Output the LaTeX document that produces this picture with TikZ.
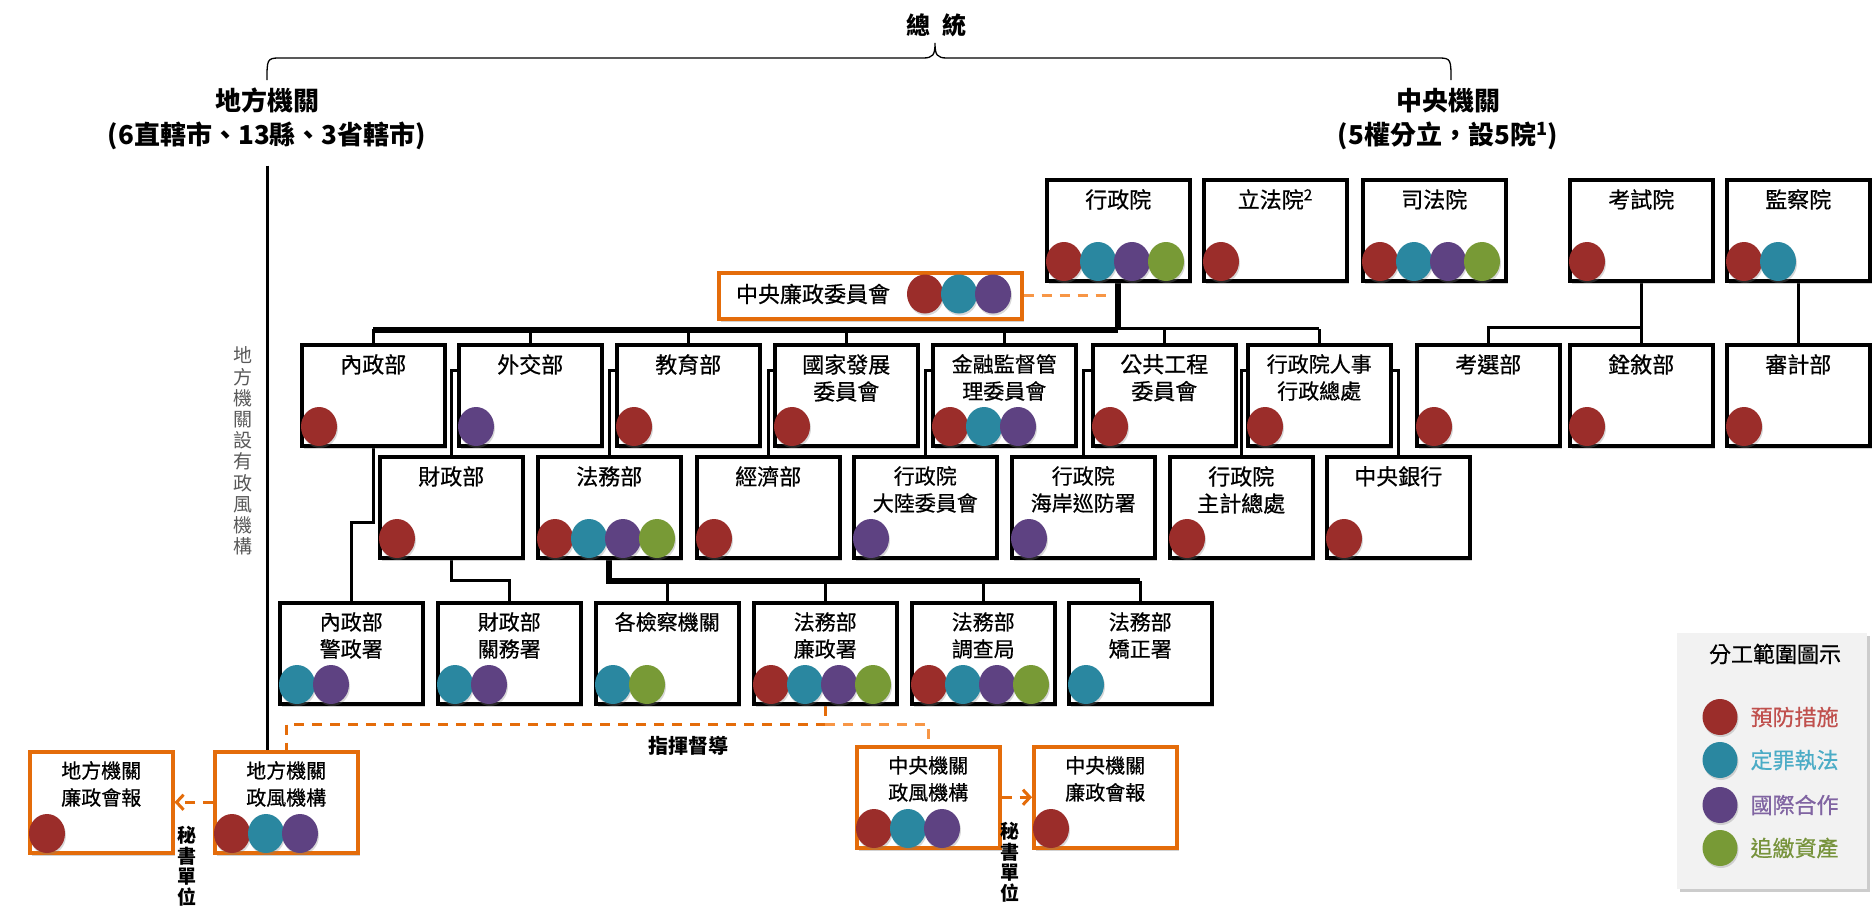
\documentclass[tikz,border=0pt]{standalone}
\usepackage{fontspec}
\setmainfont{Noto Sans CJK TC}
\newfontfamily\medf{Noto Sans CJK TC}[FakeBold=0.6]
\usetikzlibrary{shapes.geometric,shadows,arrows.meta,calc}
\definecolor{cr}{HTML}{9B2D2A}
\definecolor{ct}{HTML}{2A87A0}
\definecolor{cp}{HTML}{5E4282}
\definecolor{cg}{HTML}{789A36}
\definecolor{lr}{HTML}{C0504D}
\definecolor{lt}{HTML}{4BACC6}
\definecolor{lp}{HTML}{8064A2}
\definecolor{lg}{HTML}{77933C}
\definecolor{org}{HTML}{E46C0A}
\definecolor{lorg}{HTML}{F79646}
\definecolor{lgray}{HTML}{F2F2F2}
\definecolor{dgray}{HTML}{595959}
\pgfdeclarelayer{back}
\pgfdeclarelayer{bg}
\pgfsetlayers{back,bg,main}
\newcommand\fz[1]{\medf\fontsize{#1}{27}\selectfont}
\newcommand\ob[7]{%
  \node[#2] (#1) at (#3,#4) {};
  \node[lbl,font=\fz{#5}] (#1-t) at ([yshift=-11pt]#1.north) {#6};
  \foreach \cl [count=\ci from 0] in {#7}{%
    \node[dot,fill=\cl] at ([xshift={19+34*\ci}, yshift=21pt]#1.south west) {};}%
}
\begin{document}
\begin{tikzpicture}[x=1pt,y=-1pt,
  conn/.style={line width=3pt},
  busl/.style={line width=6pt},
  odash/.style={draw=org,line width=3pt,dash pattern=on 10pt off 8pt},
  bx/.style={draw,line width=3.5pt,fill=white,minimum width=143pt,minimum height=101pt,anchor=north west,inner sep=0pt,drop shadow={shadow xshift=2pt,shadow yshift=-3pt,opacity=.35}},
  obx/.style={bx,draw=org},
  lbl/.style={inner sep=0pt,align=center,anchor=north},
  dot/.style={ellipse,minimum width=36pt,minimum height=39pt,inner sep=0pt,drop shadow={shadow xshift=1pt,shadow yshift=-2pt,opacity=.3}},
]
\useasboundingbox (0,0) rectangle (1872,910);
\begin{pgfonlayer}{back}
\fill[white] (0,0) rectangle (1872,910);
\end{pgfonlayer}

% headers
\node[font=\bfseries\fontsize{24}{28}\selectfont] (ttl) at (936,25) {總\hspace{12pt}統};
\node[font=\bfseries\fontsize{26}{34}\selectfont,align=center] (df) at (267,119) {地方機關\\(6直轄市、13縣、3省轄市)};
\node[font=\bfseries\fontsize{26}{34}\selectfont,align=center] (zy) at (1448,119) {中央機關\\(5權分立，設5院\textsuperscript{1})};
\draw[line width=1.3pt] (267,80) .. controls (267,60) and (267,58) .. (279,58) -- (923,58) .. controls (933,58) and (935,55) .. (935,43) .. controls (935,55) and (937,58) .. (947,58) -- (1439,58) .. controls (1451,58) and (1451,60) .. (1451,80);

% top row
\ob{xz}{bx}{1045}{178}{22}{行政院}{cr,ct,cp,cg}
\ob{lf}{bx}{1202}{178}{22}{立法院\textsuperscript{2}}{cr}
\ob{sf}{bx}{1361}{178}{22}{司法院}{cr,ct,cp,cg}
\ob{ks}{bx}{1568}{178}{22}{考試院}{cr}
\ob{jc}{bx}{1725}{178}{22}{監察院}{cr,ct}

% central clean government committee
\node[draw=org,line width=3.5pt,fill=white,minimum width=303pt,minimum height=46pt,anchor=north west,inner sep=0pt,drop shadow={shadow xshift=2pt,shadow yshift=-3pt,opacity=.35}] (ccc) at (717,271) {};
\node[font=\fz{22}] (ccc-t) at (813,294) {中央廉政委員會};
\node[dot,fill=cr] at (925,294) {};
\node[dot,fill=ct] at (959,294) {};
\node[dot,fill=cp] at (993,294) {};

% row 1
\ob{nei}{bx}{300}{343}{22}{內政部}{cr}
\ob{wai}{bx}{457}{343}{22}{外交部}{cp}
\ob{jiao}{bx}{615}{343}{22}{教育部}{cr}
\ob{ndc}{bx}{773}{343}{22}{國家發展\\委員會}{cr}
\ob{fsc}{bx}{931}{343}{21}{金融監督管\\理委員會}{cr,ct,cp}
\ob{pcc}{bx}{1091}{343}{22}{公共工程\\委員會}{cr}
\ob{dgpa}{bx}{1246}{343}{21}{行政院人事\\行政總處}{cr}
\ob{exm}{bx}{1415}{343}{22}{考選部}{cr}
\ob{civ}{bx}{1568}{343}{22}{銓敘部}{cr}
\ob{aud}{bx}{1725}{343}{22}{審計部}{cr}

% row 2
\ob{mof}{bx}{378}{455}{22}{財政部}{cr}
\ob{moj}{bx}{536}{455}{22}{法務部}{cr,ct,cp,cg}
\ob{moea}{bx}{695}{455}{22}{經濟部}{cr}
\ob{mac}{bx}{852}{455}{21}{行政院\\大陸委員會}{cp}
\ob{cga}{bx}{1010}{455}{21}{行政院\\海岸巡防署}{cp}
\ob{dgbas}{bx}{1168}{455}{22}{行政院\\主計總處}{cr}
\ob{cbc}{bx}{1325}{455}{22}{中央銀行}{cr}

% row 3
\ob{npa}{bx}{278}{601}{21}{內政部\\警政署}{ct,cp}
\ob{cus}{bx}{436}{601}{21}{財政部\\關務署}{ct,cp}
\ob{pros}{bx}{594}{601}{21}{各檢察機關}{ct,cg}
\ob{aac}{bx}{752}{601}{21}{法務部\\廉政署}{cr,ct,cp,cg}
\ob{mjib}{bx}{910}{601}{21}{法務部\\調查局}{cr,ct,cp,cg}
\ob{agency}{bx}{1067}{601}{21}{法務部\\矯正署}{ct}

% bottom orange boxes
\ob{lcm}{obx}{28}{750}{20}{地方機關\\廉政會報}{cr}
\ob{lgeo}{obx}{213}{750}{20}{地方機關\\政風機構}{cr,ct,cp}
\ob{cgeo}{obx}{855}{745}{20}{中央機關\\政風機構}{cr,ct,cp}
\ob{ccm}{obx}{1032}{745}{20}{中央機關\\廉政會報}{cr}

% texts
\node[font=\fontsize{19}{21.2}\selectfont,text=dgray,align=center,inner sep=0pt] (vt) at (243,451) {地\\方\\機\\關\\設\\有\\政\\風\\機\\構};
\node[font=\bfseries\fontsize{20}{24}\selectfont] (zh) at (688,746) {指揮督導};
\node[font=\bfseries\fontsize{19}{20.5}\selectfont,align=center,inner sep=0pt] (ms1) at (187,866) {秘\\書\\單\\位};
\node[font=\bfseries\fontsize{19}{20.5}\selectfont,align=center,inner sep=0pt] (ms2) at (1010,862) {秘\\書\\單\\位};

% legend
\node[fill=lgray,minimum width=190pt,minimum height=256pt,anchor=north west,inner sep=0pt,drop shadow={shadow xshift=3pt,shadow yshift=-3pt,opacity=.4}] (leg) at (1677,633) {};
\node[font=\fz{22}] (legt) at (1775,654) {分工範圍圖示};
\foreach \yy/\cl/\tc/\tx/\nm in {717/cr/lr/預防措施/a,760/ct/lt/定罪執法/b,805/cp/lp/國際合作/c,848/cg/lg/追繳資產/d}{
  \node[dot,minimum width=35pt,minimum height=36pt,fill=\cl] (leg\nm) at (1720,\yy) {};
  \node[anchor=west,font=\fz{22},text=\tc] (leg\nm t) at (1747,\yy) {\tx};
}

% connectors
\begin{pgfonlayer}{bg}
\draw[busl] (xz.south) -- (xz.south |- 0,330);
\draw[busl] (nei.north |- 0,330) -- (xz.south |- 0,330);
\draw[conn] (xz.south |- 0,328) -- (dgpa.north |- 0,328);
\foreach \n in {nei,wai,jiao,ndc,fsc,pcc,dgpa}{\draw[conn] (\n.north) -- (\n.north |- 0,329);}
\draw[conn] (mof.north) -- (mof.north |- 0,370) -- (wai.west |- 0,370);
\draw[conn] (moj.north) -- (moj.north |- 0,370) -- (jiao.west |- 0,370);
\draw[conn] (moea.north) -- (moea.north |- 0,370) -- (ndc.west |- 0,370);
\draw[conn] (mac.north) -- (mac.north |- 0,370) -- (fsc.west |- 0,370);
\draw[conn] (cga.north) -- (cga.north |- 0,370) -- (pcc.west |- 0,370);
\draw[conn] (dgbas.north) -- (dgbas.north |- 0,370) -- (dgpa.west |- 0,370);
\draw[conn] (cbc.north) -- (cbc.north |- 0,370) -- (dgpa.east |- 0,370);
\draw[conn] (ks.south) -- (ks.south |- 0,327) -| (exm.north);
\draw[conn] (ks.south) -- (civ.north);
\draw[conn] (jc.south) -- (aud.north);
\draw[conn] (nei.south) -- (nei.south |- 0,522) -| (npa.north);
\draw[conn] (mof.south) -- (mof.south |- 0,580) -| (cus.north);
\draw[busl] (moj.south) -- (moj.south |- 0,581) -- (agency.north |- 0,581);
\foreach \n in {pros,aac,mjib,agency}{\draw[conn] (\n.north) -- (\n.north |- 0,581);}
\draw[conn] ([yshift=-12pt]df.south) -- (df.south |- lgeo.north);
\draw[odash,draw=lorg] (ccc.east) -- ([xshift=-9pt]ccc.east -| xz.south);
\draw[odash] (aac.south) -- (aac.south |- 0,724) -| (lgeo.north);
\draw[odash,draw=lorg] (aac.south |- 0,724) -| (cgeo.north);
\draw[odash,-{Straight Barb[length=7pt,width=15pt]}] (lgeo.west) -- (lcm.east);
\draw[odash,-{Straight Barb[length=7pt,width=15pt]}] (cgeo.east) -- (ccm.west);
\end{pgfonlayer}
\end{tikzpicture}
\end{document}
